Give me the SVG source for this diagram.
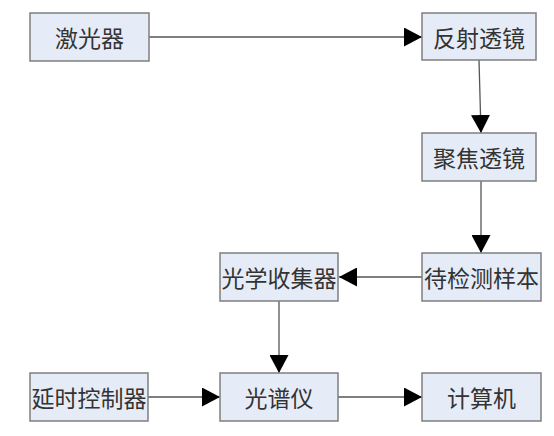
<svg xmlns="http://www.w3.org/2000/svg" width="554" height="436" viewBox="0 0 554 436">
<style>
.box{fill:#e6ecf7;stroke:#7f7f7f;stroke-width:1.5}
.lbl{font-family:"Noto Sans CJK SC","Liberation Sans",sans-serif;font-size:23px;fill:#333;text-anchor:middle;dominant-baseline:central}
.edge{stroke:#555;stroke-width:1.3;fill:none}
</style>
<defs>
<marker id="ah" markerUnits="userSpaceOnUse" markerWidth="19" markerHeight="19" refX="18" refY="9.5" orient="auto">
<path d="M0,0 L18,9.5 L0,19 Z" fill="#000"/>
</marker>
</defs>
<rect width="554" height="436" fill="#fff"/>
<g id="connectors">
<line class="edge" x1="149" y1="37" x2="422" y2="37" marker-end="url(#ah)"/>
<line class="edge" x1="479" y1="60" x2="481" y2="133" marker-end="url(#ah)"/>
<line class="edge" x1="481" y1="181" x2="481" y2="253" marker-end="url(#ah)"/>
<line class="edge" x1="422" y1="277" x2="339" y2="277" marker-end="url(#ah)"/>
<line class="edge" x1="279" y1="301" x2="279" y2="373" marker-end="url(#ah)"/>
<line class="edge" x1="148" y1="397" x2="220" y2="397" marker-end="url(#ah)"/>
<line class="edge" x1="338" y1="397" x2="422" y2="397" marker-end="url(#ah)"/>
</g>
<g id="laser"><rect class="box" x="30" y="13" width="119" height="48"/><text class="lbl" x="89.5" y="37">激光器</text></g>
<g id="reflect"><rect class="box" x="422" y="13" width="114" height="47"/><text class="lbl" x="479" y="36.5">反射透镜</text></g>
<g id="focus"><rect class="box" x="422" y="133" width="114" height="48"/><text class="lbl" x="479" y="157">聚焦透镜</text></g>
<g id="sample"><rect class="box" x="422" y="253" width="119" height="48"/><text class="lbl" x="481.5" y="277">待检测样本</text></g>
<g id="collector"><rect class="box" x="220" y="253" width="118" height="48"/><text class="lbl" x="279" y="277">光学收集器</text></g>
<g id="spectrometer"><rect class="box" x="220" y="373" width="118" height="48"/><text class="lbl" x="279" y="397">光谱仪</text></g>
<g id="computer"><rect class="box" x="422" y="373" width="119" height="48"/><text class="lbl" x="481.5" y="397">计算机</text></g>
<g id="delay"><rect class="box" x="30" y="373" width="118" height="48"/><text class="lbl" x="89" y="397">延时控制器</text></g>
</svg>
